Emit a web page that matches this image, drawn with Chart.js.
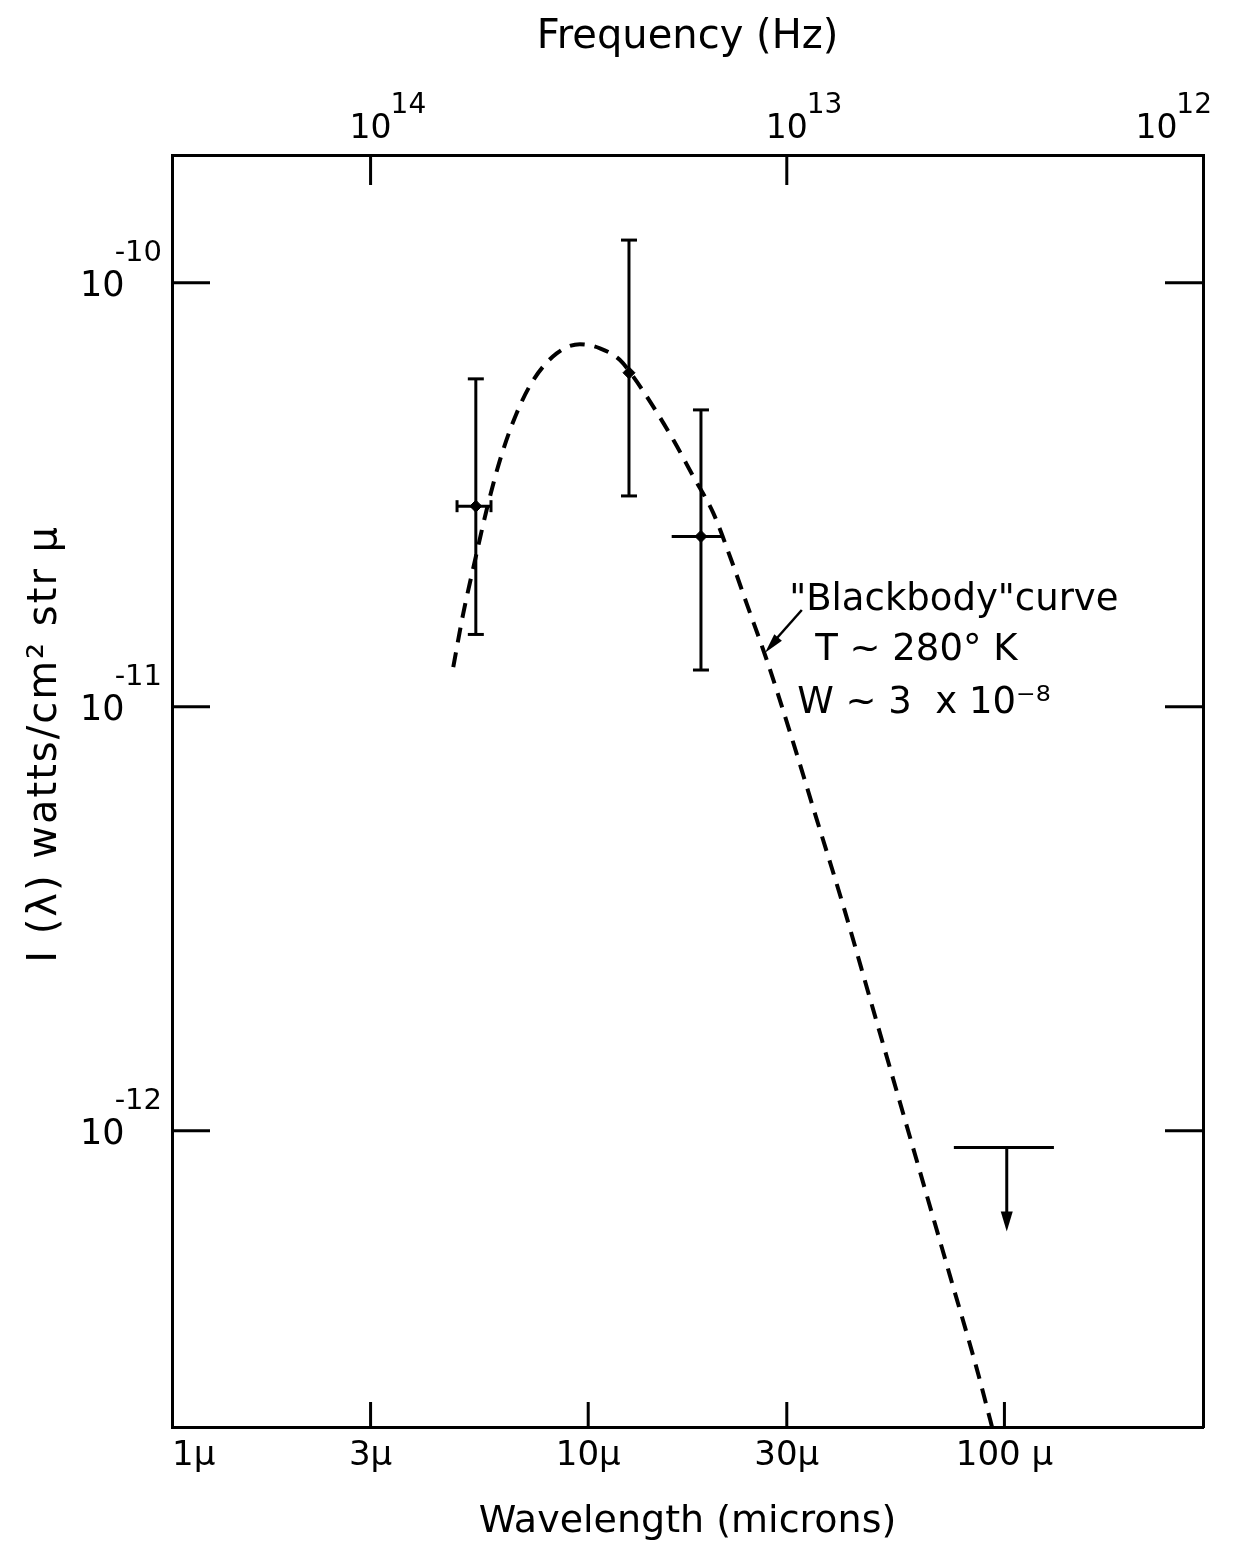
<!DOCTYPE html>
<html>
<head>
<meta charset="utf-8">
<title>Blackbody curve</title>
<script src="https://cdn.jsdelivr.net/npm/chart.js@4.4.1/dist/chart.umd.min.js"></script>
<style>
  html, body { margin: 0; padding: 0; background: #fff; }
  #spectrum { display: block; }
</style>
</head>
<body>
<canvas id="spectrum" width="1233" height="1551"></canvas>
<script>
// axis ranges: wavelength in microns, intensity in watts/cm^2 str micron
const lambdaMin = 1;
const lambdaMax = 300;
const intensityMin = 2e-13;
const intensityMax = 2e-10;
const hzPerInverseMicron = 3e14; // frequency (Hz) = 3e14 / wavelength (microns)

const wavelengthTicks = [1, 3, 10, 30, 100, 300];
const wavelengthLabels = ["1μ", "3μ", "10μ", "30μ", "100 μ", ""];
const frequencyTicks = [1e14, 1e13, 1e12];
const frequencyExponents = ["14", "13", "12"];
const intensityTicks = [1e-10, 1e-11, 1e-12];
const intensityExponents = ["-10", "-11", "-12"];

// dashed "blackbody" curve
const curveLambda = [4.74, 5.01, 5.35, 5.70, 6.14, 6.73, 7.38, 8.40, 9.55, 10.67,
  11.92, 12.83, 14.33, 16.01, 17.88, 19.98, 21.91, 24.03, 26.84, 30.53,
  35.39, 41.01, 47.53, 55.09, 63.83, 73.98, 85.77, 96.0];
const curveIntensity = [1.24e-11, 1.66e-11, 2.22e-11, 2.91e-11, 3.82e-11, 4.92e-11, 5.89e-11, 6.81e-11, 7.16e-11, 7.00e-11,
  6.57e-11, 6.00e-11, 5.10e-11, 4.26e-11, 3.49e-11, 2.86e-11, 2.26e-11, 1.75e-11, 1.29e-11, 8.71e-12,
  5.43e-12, 3.39e-12, 2.05e-12, 1.24e-12, 7.52e-13, 4.55e-13, 2.75e-13, 1.80e-13];

// measurements with error bars
const obsLambda = [5.37, 12.53, 18.66];
const obsIntensity = [2.97e-11, 6.13e-11, 2.52e-11];
const obsIntensityLow = [1.48e-11, 3.14e-11, 1.22e-11];
const obsIntensityHigh = [5.93e-11, 1.26e-10, 5.01e-11];
const obsLambdaLow = [4.84, null, 15.87];
const obsLambdaHigh = [5.84, null, 21.2];

// upper limit near 100 microns: bar from 75.6 to 131.5, arrow at 101
const limitLambda = [75.6, 101.3, 131.5];
const limitIntensity = [9.12e-13, 5.78e-13]; // bar level, arrow tip

// annotation
const noteLines = ["\"Blackbody\"curve", "T ~ 280° K", "W ~ 3  x 10⁻⁸"];
const noteAt = { x: 30.4, y: 1.69e-11 };
const noteArrowFrom = { x: 32.6, y: 1.69e-11 };
const noteArrowTo = { x: 26.6, y: 1.34e-11 };
const yTitle = "I (λ) watts/cm² str μ";

// styling
const ink = "#000";
const fontFamily = "'DejaVu Sans', sans-serif";
const lineW = 3;
const hCap = [6, 0, 0];

Chart.defaults.font.family = fontFamily;
Chart.defaults.color = ink;

function seg(ctx, x1, y1, x2, y2) {
    ctx.beginPath();
    ctx.moveTo(x1, y1);
    ctx.lineTo(x2, y2);
    ctx.stroke();
}

function arrowHead(ctx, x1, y1, x2, y2, len, half) {
    const a = Math.atan2(y2 - y1, x2 - x1);
    ctx.beginPath();
    ctx.moveTo(x2, y2);
    ctx.lineTo(x2 - len * Math.cos(a) + half * Math.sin(a), y2 - len * Math.sin(a) - half * Math.cos(a));
    ctx.lineTo(x2 - len * Math.cos(a) - half * Math.sin(a), y2 - len * Math.sin(a) + half * Math.cos(a));
    ctx.closePath();
    ctx.fill();
}

// tick marks point into the plot on all four sides, plus the 10^n labels
const axisDecor = {
    id: "axisDecor",
    afterDraw(chart) {
        const { ctx, chartArea: a, scales } = chart;
        ctx.save();
        ctx.strokeStyle = ink;
        ctx.fillStyle = ink;
        ctx.lineWidth = lineW;
        wavelengthTicks.forEach(v => {
            const px = scales.x.getPixelForValue(v);
            if (px > a.left + 2 && px < a.right - 2) seg(ctx, px, a.bottom, px, a.bottom - 25);
        });
        frequencyTicks.forEach(v => {
            const px = scales.x2.getPixelForValue(v);
            if (px > a.left + 2 && px < a.right - 2) seg(ctx, px, a.top, px, a.top + 30);
        });
        intensityTicks.forEach(v => {
            const py = scales.y.getPixelForValue(v);
            seg(ctx, a.left, py, a.left + 38, py);
            seg(ctx, a.right, py, a.right - 38, py);
        });

        ctx.textBaseline = "alphabetic";
        ctx.textAlign = "left";
        // top: frequency labels
        frequencyTicks.forEach((v, i) => {
            const px = scales.x2.getPixelForValue(v);
            ctx.font = "33px " + fontFamily;
            const wb = ctx.measureText("10").width;
            ctx.font = "28px " + fontFamily;
            const we = ctx.measureText(frequencyExponents[i]).width;
            let left = px - wb / 2;
            if (left + wb + we > chart.width - 20) left = chart.width - 20 - wb - we;
            const base = a.top - 17;
            ctx.font = "33px " + fontFamily;
            ctx.fillText("10", left, base);
            ctx.font = "28px " + fontFamily;
            ctx.fillText(frequencyExponents[i], left + wb - 1, base - 25);
        });
        // left: intensity labels
        intensityTicks.forEach((v, i) => {
            const py = scales.y.getPixelForValue(v);
            ctx.font = "29px " + fontFamily;
            const we = ctx.measureText(intensityExponents[i]).width;
            const expLeft = a.left - 10 - we;
            ctx.fillText(intensityExponents[i], expLeft, py - 22);
            ctx.font = "35px " + fontFamily;
            const wb = ctx.measureText("10").width;
            ctx.fillText("10", expLeft + 10 - wb, py + 13);
        });

        // y axis title
        ctx.save();
        ctx.translate(46, a.top + 0.463 * (a.bottom - a.top));
        ctx.rotate(-Math.PI / 2);
        ctx.font = "40px " + fontFamily;
        ctx.letterSpacing = "2px";
        ctx.textAlign = "center";
        ctx.textBaseline = "middle";
        ctx.fillText(yTitle, 0, 0);
        ctx.restore();
        ctx.restore();
    }
};

const errorBars = {
    id: "errorBars",
    afterDatasetsDraw(chart) {
        const { ctx, scales: { x, y } } = chart;
        ctx.save();
        ctx.strokeStyle = ink;
        ctx.fillStyle = ink;
        ctx.lineWidth = lineW;
        obsLambda.forEach((lam, i) => {
            const px = x.getPixelForValue(lam);
            const lo = y.getPixelForValue(obsIntensityLow[i]);
            const hi = y.getPixelForValue(obsIntensityHigh[i]);
            seg(ctx, px, lo, px, hi);
            seg(ctx, px - 8, lo, px + 8, lo);
            seg(ctx, px - 8, hi, px + 8, hi);
            if (obsLambdaLow[i] !== null) {
                const py = y.getPixelForValue(obsIntensity[i]);
                const l = x.getPixelForValue(obsLambdaLow[i]);
                const r = x.getPixelForValue(obsLambdaHigh[i]);
                seg(ctx, l, py, r, py);
                if (hCap[i]) {
                    seg(ctx, l, py - hCap[i], l, py + hCap[i]);
                    seg(ctx, r, py - hCap[i], r, py + hCap[i]);
                }
            }
        });

        // upper limit
        const ly = y.getPixelForValue(limitIntensity[0]);
        const tip = y.getPixelForValue(limitIntensity[1]);
        const lx = x.getPixelForValue(limitLambda[1]);
        seg(ctx, x.getPixelForValue(limitLambda[0]), ly, x.getPixelForValue(limitLambda[2]), ly);
        seg(ctx, lx, ly, lx, tip - 10);
        arrowHead(ctx, lx, ly, lx, tip, 20, 6);

        // annotation
        const ax1 = x.getPixelForValue(noteArrowFrom.x), ay1 = y.getPixelForValue(noteArrowFrom.y);
        const ax2 = x.getPixelForValue(noteArrowTo.x), ay2 = y.getPixelForValue(noteArrowTo.y);
        ctx.lineWidth = 2.5;
        seg(ctx, ax1, ay1, ax2 + 6, ay2 - 8);
        arrowHead(ctx, ax1, ay1, ax2, ay2, 20, 5);

        const tx = x.getPixelForValue(noteAt.x), ty = y.getPixelForValue(noteAt.y);
        ctx.font = "37px " + fontFamily;
        ctx.textAlign = "left";
        ctx.textBaseline = "alphabetic";
        ctx.fillText(noteLines[0], tx, ty);
        ctx.fillText(noteLines[1], tx + 26, ty + 50);
        ctx.fillText(noteLines[2], tx + 8, ty + 103);
        ctx.restore();
    }
};

const axisBase = {
    type: "logarithmic",
    grid: { drawOnChartArea: false, drawTicks: false },
    border: { display: true, color: ink, width: lineW },
};

function fixHeight(h) {
    return s => { s.height = h; s.paddingLeft = 0; s.paddingRight = 0; };
}
function fixWidth(w) {
    return s => { s.width = w; s.paddingTop = 0; s.paddingBottom = 0; };
}

const canvas = document.getElementById("spectrum");
new Chart(canvas, {
    type: "scatter",
    data: {
        datasets: [
            {
                label: "Blackbody curve",
                data: curveLambda.map((l, i) => ({ x: l, y: curveIntensity[i] })),
                showLine: true,
                borderColor: ink,
                borderWidth: 4,
                borderDash: [15, 10],
                pointRadius: 0,
                cubicInterpolationMode: "monotone",
                xAxisID: "x",
                yAxisID: "y",
            },
            {
                label: "Measured",
                data: obsLambda.map((l, i) => ({ x: l, y: obsIntensity[i] })),
                pointStyle: "rectRot",
                pointRadius: 6,
                backgroundColor: ink,
                borderColor: ink,
                xAxisID: "x",
                yAxisID: "y",
            },
        ],
    },
    options: {
        responsive: false,
        animation: false,
        layout: { padding: 0 },
        plugins: { legend: { display: false }, tooltip: { enabled: false } },
        scales: {
            x: {
                ...axisBase,
                position: "bottom",
                min: lambdaMin,
                max: lambdaMax,
                afterBuildTicks: s => { s.ticks = wavelengthTicks.map(v => ({ value: v })); },
                afterFit: fixHeight(124),
                ticks: {
                    autoSkip: false, maxRotation: 0, padding: 9, align: "inner",
                    font: { size: 34 },
                    callback: v => wavelengthLabels[wavelengthTicks.indexOf(v)],
                },
                title: { display: true, text: "Wavelength (microns)", font: { size: 38 }, padding: { top: 0, bottom: 6 } },
            },
            x2: {
                ...axisBase,
                position: "top",
                reverse: true,
                min: hzPerInverseMicron / lambdaMax,
                max: hzPerInverseMicron / lambdaMin,
                afterBuildTicks: s => { s.ticks = frequencyTicks.map(v => ({ value: v })); },
                afterFit: fixHeight(155),
                ticks: { display: false },
                title: { display: true, text: "Frequency (Hz)", font: { size: 40 }, padding: { top: 14, bottom: 0 } },
            },
            y: {
                ...axisBase,
                position: "left",
                min: intensityMin,
                max: intensityMax,
                afterBuildTicks: s => { s.ticks = intensityTicks.map(v => ({ value: v })); },
                afterFit: fixWidth(172),
                ticks: { display: false },
            },
            y2: {
                ...axisBase,
                position: "right",
                min: intensityMin,
                max: intensityMax,
                afterBuildTicks: s => { s.ticks = intensityTicks.map(v => ({ value: v })); },
                afterFit: fixWidth(30),
                ticks: { display: false },
            },
        },
    },
    plugins: [axisDecor, errorBars],
});
</script>
</body>
</html>
